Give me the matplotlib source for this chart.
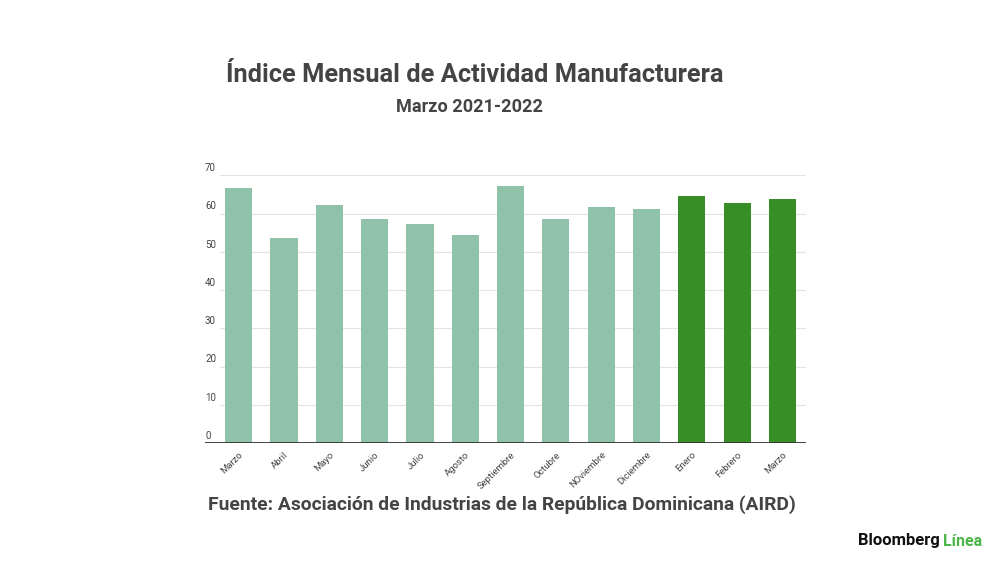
import matplotlib.pyplot as plt
import numpy as np

plt.rcParams["font.family"] = ["Roboto", "DejaVu Sans"]

# data
months = ['Marzo', 'Abril', 'Mayo', 'Junio', 'Julio', 'Agosto', 'Septiembre',
          'Octubre', 'NOviembre', 'Diciembre', 'Enero', 'Febrero', 'Marzo']
values = [66.7, 53.6, 62.3, 58.6, 57.3, 54.5, 67.2,
          58.7, 61.6, 61.1, 64.6, 62.8, 63.7]
year = [2021] * 10 + [2022] * 3
y_ticks = [0, 10, 20, 30, 40, 50, 60, 70]

light = '#8fc2a8'
dark = '#388e26'
text_col = '#444444'

W, H = 1000, 562
fig = plt.figure(figsize=(W / 100, H / 100), dpi=100)
ax_left, ax_right = 205 / W, 806 / W
ax_bottom, ax_top = (H - 443.3) / H, (H - 175.3) / H
ax = fig.add_axes([ax_left, ax_bottom, ax_right - ax_left, ax_top - ax_bottom])

x = np.arange(len(months))
colors = [dark if y == 2022 else light for y in year]
ax.bar(x, values, width=0.6, color=colors, zorder=2)

ax.set_xlim(-0.744, len(months) - 1 + 0.52)
ax.set_ylim(0, 70)

# gridlines start after the y labels, like the original
grid_start = (220 - 205) / (806 - 205)
for t in y_ticks[1:]:
    ax.axhline(t, xmin=grid_start, xmax=1, color='#e3e3e3', lw=0.8, zorder=1)

for t in y_ticks:
    ax.text(0.0, t + 0.6, str(t), transform=ax.get_yaxis_transform(),
            fontsize=7, color=text_col, ha='left', va='bottom')

ax.axhline(0, color='#333333', lw=1.3, zorder=3)

for s in ax.spines.values():
    s.set_visible(False)
ax.set_yticks([])
ax.set_xticks(x)
ax.set_xticklabels(months, rotation=45, ha='right', rotation_mode='anchor',
                   fontsize=6.8, color=text_col)
ax.tick_params(axis='x', length=0, pad=5)

fig.text(475 / W, 1 - 75 / H, 'Índice Mensual de Actividad Manufacturera',
         ha='center', va='center', fontsize=18.3, fontweight='bold', color=text_col)
fig.text(469 / W, 1 - 107 / H, 'Marzo 2021-2022',
         ha='center', va='center', fontsize=13.1, fontweight='bold', color=text_col)
fig.text(502 / W, 1 - 505 / H,
         'Fuente: Asociación de Industrias de la República Dominicana (AIRD)',
         ha='center', va='center', fontsize=13.9, fontweight='bold', color=text_col)

fig.text(858 / W, 1 - 541 / H, 'Bloomberg', ha='left', va='center',
         fontsize=12, fontweight='bold', color='#111111')
fig.text(943 / W, 1 - 541 / H, 'Línea', ha='left', va='center',
         fontsize=11.5, fontweight='bold', color='#4cb648')

fig.savefig('out.png', dpi=100, facecolor='white')
